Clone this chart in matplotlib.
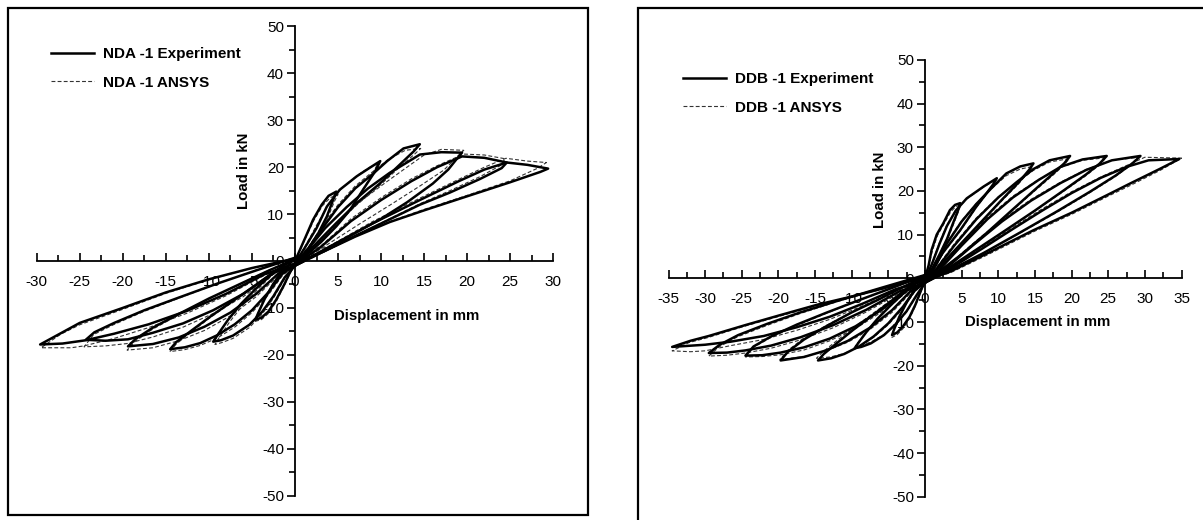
import matplotlib
matplotlib.use("Agg")
import matplotlib.pyplot as plt
from matplotlib.patches import Rectangle
from matplotlib.ticker import MultipleLocator, FuncFormatter

FAMILY = ['Liberation Sans', 'DejaVu Sans']
plt.rcParams['font.family'] = FAMILY

# ---------------- data: NDA-1 (left panel), each loop = (displacement mm, load kN) points ----------------
NDA_EXP_1 = [(0,0),(0.6,2.5),(1.2,5.0),(2.1,8.8),(3.1,12.0),(3.9,13.9),(4.8,14.8),(4.5,13.4),(3.7,9.5),(2.7,5.9),(1.6,2.8),(0.5,0.3),(0,-0.5),
             (-0.6,-2.5),(-1.3,-5.2),(-2.2,-8.3),(-3.1,-10.8),(-3.9,-12.1),(-4.6,-12.5),(-4.3,-11.2),(-3.5,-8),(-2.5,-4.8),(-1.4,-2),(-0.3,0),(0,0)]
NDA_EXP_2 = [(0,-0.5),(1.2,3),(2.5,7),(3.7,11.6),(5.2,15.2),(7.2,18.1),(8.7,19.9),(9.9,21.3),(9.3,19.1),(7.9,15.2),(6.4,10.9),(4.8,7.4),(3,4),(1.3,1.2),(0,-1),
             (-1.2,-3.5),(-2.5,-7.5),(-3.8,-10.8),(-5.3,-13.6),(-7.2,-15.9),(-8.6,-16.9),(-9.5,-17.2),(-9,-15.8),(-7.8,-12.6),(-6.3,-9.2),(-4.6,-6),(-2.8,-3),(-1,-0.5),(0,0.3)]
NDA_EXP_3 = [(0,-1),(1.5,2.5),(3,6.5),(5,11.5),(7,15.5),(9,18.5),(10.7,21.3),(12.6,24.0),(14.5,24.9),(13.8,23.4),(12.2,20.6),(9.9,16.6),(7.2,12.4),(4.8,8.1),(2.5,3.8),(0.5,0.2),(-0.5,-1.5),
             (-1.5,-2.8),(-3,-6.5),(-5,-10.5),(-7,-13.5),(-9,-15.8),(-11,-17.5),(-12.8,-18.4),(-14.5,-18.8),(-13.8,-17.3),(-12,-14.8),(-9.8,-11.8),(-7.2,-8.5),(-4.6,-5.2),(-2.2,-2),(0,0.6)]
NDA_EXP_4 = [(-0.5,-1.5),(1.5,2.5),(3.5,7),(6,11.5),(8.5,15.5),(11,18.8),(13,21),(14.5,22.7),(17,23.2),(19.4,23.1),(18.8,21.8),(17.8,19.5),(16,16.5),(13,12.5),(10,9),(6.5,5.5),(3,2),(0.5,-0.5),
             (-2,-2.8),(-4.5,-7),(-7.5,-11),(-10.5,-14),(-13.5,-16.3),(-16.5,-17.7),(-19.4,-18.2),(-18.5,-16.6),(-16.5,-14.2),(-13.5,-11.3),(-10,-8),(-6.5,-5),(-3,-2),(0.5,0.8)]
NDA_EXP_5 = [(-0.5,-1.5),(3,3),(6.5,8.5),(10,13),(13.5,17),(16.5,20),(19.4,22.3),(22,22),(24.6,21),(24,19.8),(21.5,17.5),(18,14.6),(14.5,12),(10,8),(6,4.5),(2,0.8),(0,-1),
             (-2.5,-2.5),(-6,-7),(-9.5,-10.5),(-13,-13.3),(-16.5,-15.3),(-19.4,-16.7),(-22,-17),(-24.3,-16.8),(-23.3,-15.2),(-21,-13.2),(-17.5,-10.5),(-13.5,-7.8),(-9,-4.8),(-4.5,-2),(0.5,1)]
NDA_EXP_6 = [(0,-1),(4,3),(9,8),(14.5,13),(19,17),(22,19.5),(24.6,21),(27,20.5),(29.4,19.7),(28.5,19),(25,16.8),(20,13.8),(15,10.8),(11,8.3),(7,5.2),(3.3,2),(0.5,-0.2),
             (-3.5,-2.8),(-8,-7),(-12.5,-10.6),(-17,-13.5),(-21,-15.5),(-24.3,-16.9),(-27,-17.6),(-29.6,-17.8),(-27,-15.2),(-25,-13.2),(-20,-10),(-15,-6.7),(-10,-3.9),(-5,-1.5),(0,0.5)]

NDA_ANS_1 = [(0,0),(0.6,2.3),(1.3,5.2),(2.2,8.7),(3.2,11.8),(4.1,13.5),(5.0,14.2),(4.6,12.8),(3.8,9.2),(2.8,5.7),(1.7,2.7),(0.5,0.2),(0,-0.6),
             (-0.6,-2.7),(-1.3,-5.5),(-2.2,-8.7),(-3.1,-11.2),(-3.9,-12.5),(-4.7,-12.9),(-4.4,-11.5),(-3.6,-8.3),(-2.6,-5),(-1.4,-2.1),(-0.3,0),(0,0)]
NDA_ANS_2 = [(0,-0.5),(1.2,3.2),(2.5,7.6),(3.8,11.8),(5.3,15.3),(7.2,18.2),(8.5,19.8),(9.6,20.8),(9.1,18.8),(7.8,15),(6.3,10.8),(4.7,7.3),(2.9,3.9),(1.2,1.1),(0,-1.1),
             (-1.2,-3.8),(-2.5,-7.9),(-3.8,-11.3),(-5.3,-14.2),(-7.2,-16.5),(-8.5,-17.4),(-9.3,-17.8),(-8.8,-16.3),(-7.6,-13),(-6.1,-9.5),(-4.4,-6.2),(-2.7,-3.1),(-1,-0.5),(0,0.3)]
NDA_ANS_3 = [(0,0.3),(1.5,2.8),(3,7),(5,12),(7,16),(9,19),(10.8,21.6),(12.8,23.6),(14.6,24.0),(13.9,22.8),(12.2,20.1),(9.9,16.2),(7.2,12),(4.8,7.8),(2.5,3.6),(0.5,0.1),(-0.5,-1.6),
             (-1.5,-3.2),(-3,-7),(-5,-11),(-7,-14.1),(-9,-16.4),(-11,-18),(-12.8,-18.9),(-14.5,-19.3),(-13.8,-17.7),(-12,-15.1),(-9.8,-12),(-7.2,-8.7),(-4.6,-5.3),(-2.2,-2),(0.5,0.6)]
NDA_ANS_4 = [(0.5,0.6),(2,2.4),(4.5,7.5),(7.5,12.6),(10.5,16.7),(13,20),(15,22.6),(17,23.8),(19.6,23.6),(18.8,22.2),(17.3,19.4),(14.6,16.1),(11.1,12),(7.5,7.9),(4,3.8),(1,0.2),(-0.5,-1.6),
             (-2,-3.2),(-4.5,-7.6),(-7.5,-11.7),(-10.5,-14.8),(-13.5,-17),(-16.5,-18.5),(-19.5,-19),(-18.6,-17.2),(-16.6,-14.6),(-13.6,-11.6),(-10.1,-8.2),(-6.6,-5.1),(-3.1,-2),(0.5,0.8)]
NDA_ANS_5 = [(0.5,0.8),(3,3.2),(6.5,9),(10,13.5),(13.5,17.5),(16.5,20.3),(19.6,22.8),(22,22.6),(24.4,21.8),(23.9,20.4),(21.5,18),(18,15),(14.5,12.2),(10,8.1),(6,4.5),(2,0.7),(0,-1.1),
             (-2.5,-2.8),(-6,-7.6),(-9.5,-11.2),(-13,-14.1),(-16.5,-16.2),(-19.5,-17.6),(-22,-18.1),(-24.5,-18.3),(-23.4,-15.7),(-21.1,-13.6),(-17.6,-10.8),(-13.6,-8),(-9.1,-4.9),(-4.6,-2),(0.5,1)]
NDA_ANS_6 = [(0.5,1),(4,3.2),(9,8.4),(14.5,13.4),(19,17.4),(22,20),(24.5,21.9),(27,21.3),(29.2,21.0),(28.2,19.8),(25,17.1),(20,14),(15,11),(11,8.4),(7,5.2),(3.3,1.9),(0.5,-0.3),
             (-3.5,-3),(-8,-7.4),(-12.5,-11.1),(-17,-14.2),(-21,-16.5),(-24.5,-18.1),(-26,-18.5),(-29.5,-18.5),(-27.2,-15.6),(-25,-13.6),(-20,-10.3),(-15,-6.9),(-10,-4),(-5,-1.5),(0,0.5)]

# ---------------- data: DDB-1 (right panel) ----------------
DDB_EXP_1 = [(0,0),(0.5,3),(0.9,6.5),(1.6,10),(2.5,12.6),(3.4,15.6),(4.1,16.8),(4.8,17.2),(4.5,15.5),(3.8,12.5),(3,9),(2,5.5),(1,2.3),(0,-0.5),
             (-0.6,-3),(-1.3,-6),(-2.1,-8.8),(-3,-11),(-3.8,-12.4),(-4.5,-13),(-4.2,-11.6),(-3.5,-8.8),(-2.5,-5.5),(-1.3,-2.3),(0,0)]
DDB_EXP_2 = [(0,-0.5),(1,3.5),(2,8),(3,12),(4.2,15.5),(5.7,18.3),(8,21),(9.8,22.9),(9.3,21.5),(8.2,19),(7,16.4),(4.8,11),(2.5,6),(1,2),(0,-1),
             (-1.2,-4),(-2.5,-7.5),(-4,-10.5),(-5.6,-13),(-7.4,-14.9),(-8.7,-15.7),(-9.6,-16),(-9.1,-14.8),(-8,-12.3),(-6.5,-9.3),(-4.7,-6.2),(-2.8,-3.2),(-1,-0.8),(0,0.2)]
DDB_EXP_3 = [(0,-1),(1.5,3),(3,8),(5,13),(7,17),(9,20.5),(11.1,24.0),(13,25.6),(14.8,26.3),(14.2,24.8),(12.8,22),(10.5,18),(8,13.5),(5.5,9),(3,4.5),(0.8,0.5),(-0.5,-1.5),
             (-1.5,-3),(-3,-6.5),(-5,-10.3),(-7,-13.3),(-9,-15.6),(-11,-17.3),(-12.8,-18.3),(-14.6,-18.8),(-13.8,-17.3),(-12,-14.8),(-9.8,-11.8),(-7.2,-8.5),(-4.6,-5.2),(-2.2,-2),(0.5,0.5)]
DDB_EXP_4 = [(-0.5,-1.5),(1.5,2),(4,7.5),(7,13.5),(10,18.5),(12.5,22),(14.8,25),(17,27),(19.8,28),(19,26.3),(17.5,24),(15,20.3),(12,15.8),(8.5,10.5),(5,5.5),(1.5,1),(-0.5,-1.5),
             (-2,-3),(-4.5,-7.3),(-7.5,-11.3),(-10.5,-14.3),(-13.5,-16.5),(-16.5,-18),(-19.7,-18.8),(-18.7,-16.8),(-16.5,-14),(-13.5,-11),(-10,-7.8),(-6.5,-5),(-3,-2),(0.5,0.8)]
DDB_EXP_5 = [(-0.5,-1.5),(2,2),(5,7.5),(8.5,13.5),(12,18.5),(15.5,22.5),(18.5,25.5),(21.5,27.2),(24.8,28),(23.8,26.2),(22,23.8),(19,20.2),(15,15.5),(11,11),(6.5,6),(2,1),(0,-1),
             (-2.5,-2.8),(-6,-7.3),(-9.5,-11),(-13,-13.8),(-16.5,-15.8),(-19.7,-17),(-22.2,-17.6),(-24.5,-17.7),(-23.4,-15.6),(-21,-13.3),(-17.5,-10.6),(-13.5,-7.9),(-9,-5),(-4.5,-2.2),(0.5,1)]
DDB_EXP_6 = [(0,-1),(3,2.5),(6.5,7.5),(10.5,13),(14.5,17.8),(18.5,21.8),(22,24.8),(25.5,27),(29.4,28),(28.3,26.3),(26,23.5),(22.5,19.8),(18,15.3),(13,10.5),(8,5.8),(3,1.5),(0,-1),
             (-3.5,-3),(-8,-7.2),(-12.5,-10.7),(-17,-13.5),(-21,-15.4),(-24.5,-16.5),(-27,-17),(-29.5,-17.1),(-28,-15.2),(-25.5,-13),(-21.5,-10.4),(-17,-7.8),(-12,-5.2),(-6,-2.2),(0.5,1)]
DDB_EXP_7 = [(0,-1),(4,2.8),(8,7),(12,11.3),(16,15.5),(20,19.5),(24,23),(27.5,25.5),(30.5,27),(34.7,27.3),(32,25),(28,21.7),(24.8,19),(20,15),(14.8,11),(8,5.3),(3.4,1.5),(0,-0.5),
             (-4,-2.5),(-8.5,-5.8),(-13,-8.8),(-17.5,-11.2),(-22,-13.2),(-26.5,-14.5),(-30,-15.2),(-34.5,-15.7),(-32,-14.3),(-29.5,-13.2),(-24.5,-10.7),(-19.7,-8.4),(-14.6,-6),(-9.8,-4.1),(-5,-2),(0,0.3)]

DDB_ANS_1 = [(0,0),(0.5,2.8),(1,6.3),(1.7,9.8),(2.6,12.5),(3.5,15.2),(4.2,16.4),(4.9,16.8),(4.5,15),(3.8,12),(3,8.6),(2,5.2),(1,2.1),(0,-0.6),
             (-0.6,-3.2),(-1.3,-6.3),(-2.1,-9.2),(-3,-11.5),(-3.8,-12.9),(-4.6,-13.6),(-4.3,-12),(-3.6,-9.2),(-2.6,-5.8),(-1.3,-2.4),(0,0)]
DDB_ANS_2 = [(0,-0.5),(1,3.7),(2,8.3),(3,12.2),(4.2,15.6),(5.8,18.3),(8,20.9),(9.7,22.6),(9.2,21),(8.1,18.6),(6.9,16),(4.8,10.8),(2.5,5.8),(1,1.9),(0,-1.1),
             (-1.2,-4.2),(-2.5,-7.7),(-4,-10.6),(-5.6,-12.9),(-7.4,-14.6),(-8.7,-15.3),(-9.5,-15.5),(-9,-14.4),(-7.9,-12),(-6.4,-9.2),(-4.6,-6.2),(-2.7,-3.2),(-1,-0.8),(0,0.2)]
DDB_ANS_3 = [(0,-1),(1.5,3.3),(3,8.3),(5,13.2),(7,17.1),(9,20.4),(11.1,23.5),(13,25),(14.7,25.6),(14.1,24.2),(12.7,21.5),(10.4,17.6),(7.9,13.2),(5.4,8.8),(2.9,4.3),(0.7,0.4),(-0.5,-1.6),
             (-1.5,-3.3),(-3,-6.9),(-5,-10.6),(-7,-13.5),(-9,-15.6),(-11,-17.2),(-12.9,-18),(-14.8,-18.3),(-14,-16.9),(-12.2,-14.5),(-10,-11.6),(-7.4,-8.4),(-4.8,-5.2),(-2.3,-2),(0.5,0.5)]
DDB_ANS_4 = [(-0.5,-1.6),(1.5,2.3),(4,7.9),(7,13.8),(10,18.6),(12.5,21.9),(14.8,24.7),(17,26.6),(19.7,27.4),(18.9,25.8),(17.4,23.5),(14.9,19.9),(11.9,15.5),(8.4,10.3),(4.9,5.4),(1.4,0.9),(-0.5,-1.6),
             (-2,-3.4),(-4.5,-7.8),(-7.5,-11.7),(-10.5,-14.6),(-13.5,-16.6),(-16.5,-17.9),(-19.8,-18.6),(-18.8,-16.6),(-16.6,-13.8),(-13.6,-10.9),(-10.1,-7.8),(-6.6,-5),(-3.1,-2),(0.5,0.8)]
DDB_ANS_5 = [(-0.5,-1.6),(2,2.4),(5,7.9),(8.5,13.9),(12,18.8),(15.5,22.6),(18.5,25.4),(21.5,27),(24.7,27.6),(23.7,25.8),(21.9,23.4),(18.9,19.9),(14.9,15.3),(10.9,10.9),(6.4,5.9),(1.9,0.9),(0,-1.1),
             (-2.5,-3.2),(-6,-7.8),(-9.5,-11.5),(-13,-14.3),(-16.5,-16.4),(-19.7,-17.5),(-22.2,-17.9),(-24.5,-18.0),(-23.5,-15.9),(-21.1,-13.6),(-17.6,-10.9),(-13.6,-8.1),(-9.1,-5.1),(-4.6,-2.3),(0.5,1)]
DDB_ANS_6 = [(0,-1.1),(3,2.8),(6.5,7.9),(10.5,13.4),(14.5,18.1),(18.5,22),(22,24.9),(25.5,27),(29.3,27.7),(28.2,26),(25.9,23.2),(22.4,19.5),(17.9,15),(12.9,10.3),(7.9,5.7),(2.9,1.4),(0,-1.1),
             (-3.5,-3.4),(-8,-7.7),(-12.5,-11.3),(-17,-14.1),(-21,-16),(-24.5,-17.1),(-27,-17.6),(-29.5,-17.8),(-28.1,-15.7),(-25.6,-13.4),(-21.6,-10.8),(-17.1,-8.1),(-12.1,-5.4),(-6.1,-2.3),(0.5,1)]
DDB_ANS_7 = [(0,-1.1),(4,3.1),(8,7.4),(12,11.7),(16,15.9),(20,19.8),(24,23.2),(27.5,25.8),(30,27.7),(32.5,27.6),(35,27.5),(32.2,24.8),(28.2,21.4),(25,18.8),(20.2,14.8),(15,10.8),(8.2,5.1),(3.5,1.3),(0,-0.6),
             (-4,-2.9),(-8.5,-6.3),(-13,-9.4),(-17.5,-11.9),(-22,-14),(-26.5,-15.4),(-30,-16.6),(-32,-16.8),(-34.5,-16.6),(-32.2,-14.7),(-29.7,-13.6),(-24.7,-11),(-19.9,-8.7),(-14.8,-6.3),(-10,-4.3),(-5,-2.1),(0,0.3)]

NDA_EXP = [NDA_EXP_1, NDA_EXP_2, NDA_EXP_3, NDA_EXP_4, NDA_EXP_5, NDA_EXP_6]
NDA_ANS = [NDA_ANS_1, NDA_ANS_2, NDA_ANS_3, NDA_ANS_4, NDA_ANS_5, NDA_ANS_6]
DDB_EXP = [DDB_EXP_1, DDB_EXP_2, DDB_EXP_3, DDB_EXP_4, DDB_EXP_5, DDB_EXP_6, DDB_EXP_7]
DDB_ANS = [DDB_ANS_1, DDB_ANS_2, DDB_ANS_3, DDB_ANS_4, DDB_ANS_5, DDB_ANS_6, DDB_ANS_7]

NDA_XLIM = (-30, 30)
DDB_XLIM = (-35, 35)
Y_LIM = (-50, 50)
X_LABEL = "Displacement in mm"
Y_LABEL = "Load in kN"

W, H = 1203, 520
fig = plt.figure(figsize=(W / 100, H / 100), dpi=100)


def fr(x0, y0, x1, y1):
    return [x0 / W, 1 - y1 / H, (x1 - x0) / W, (y1 - y0) / H]


# outer frames
fig.patches.append(Rectangle((8 / W, 1 - 515 / H), (588 - 8) / W, (515 - 8) / H,
                             transform=fig.transFigure, fill=False, lw=1.6, ec='black'))
fig.patches.append(Rectangle((638 / W, -0.1), 1.0, 1.1 - 8 / H,
                             transform=fig.transFigure, fill=False, lw=1.6, ec='black'))

TICK_SIZE = 11
LABEL_SIZE = 10.8
LEG_SIZE = 11


def make_panel(rect, xlim, exp_loops, ans_loops, name, xlab_pos, ylab_pos, leg_anchor):
    ax = fig.add_axes(rect)
    ax.set_xlim(*xlim)
    ax.set_ylim(*Y_LIM)
    ax.patch.set_alpha(0)
    for s in ('top', 'right'):
        ax.spines[s].set_visible(False)
    ax.spines['left'].set_position(('data', 0))
    ax.spines['bottom'].set_position(('data', 0))
    ax.spines['left'].set_linewidth(1.3)
    ax.spines['bottom'].set_linewidth(1.3)
    ax.xaxis.set_major_locator(MultipleLocator(5))
    ax.xaxis.set_minor_locator(MultipleLocator(2.5))
    ax.yaxis.set_major_locator(MultipleLocator(10))
    ax.yaxis.set_minor_locator(MultipleLocator(5))
    ax.tick_params(axis='x', which='major', direction='in', length=6, width=1.2, pad=10, labelsize=TICK_SIZE)
    ax.tick_params(axis='x', which='minor', direction='in', length=4, width=1.2)
    ax.tick_params(axis='y', which='major', direction='out', length=6, width=1.2, pad=2, labelsize=TICK_SIZE)
    ax.tick_params(axis='y', which='minor', direction='out', length=4, width=1.2)
    ax.xaxis.set_major_formatter(FuncFormatter(lambda v, p: f"{v:g}"))
    ax.yaxis.set_major_formatter(FuncFormatter(lambda v, p: f"{v:g}"))

    for i, loop in enumerate(ans_loops):
        xs = [p[0] for p in loop]
        ys = [p[1] for p in loop]
        ax.plot(xs, ys, color='#333333', lw=0.8, ls=(0, (3.5, 2)),
                label=f"{name} -1 ANSYS" if i == 0 else None, zorder=3)
    for i, loop in enumerate(exp_loops):
        xs = [p[0] for p in loop]
        ys = [p[1] for p in loop]
        ax.plot(xs, ys, color='black', lw=1.8, solid_joinstyle='round',
                label=f"{name} -1 Experiment" if i == 0 else None, zorder=4)

    ax.text(xlab_pos[0], xlab_pos[1], X_LABEL, ha='center', va='center',
            fontsize=LABEL_SIZE, fontweight='bold')
    ax.text(ylab_pos[0], ylab_pos[1], Y_LABEL, ha='center', va='center', rotation=90,
            fontsize=LABEL_SIZE, fontweight='bold')

    h, l = ax.get_legend_handles_labels()
    order = [1, 0]
    ax.legend([h[k] for k in order], [l[k] for k in order], loc='upper left',
              bbox_to_anchor=leg_anchor, bbox_transform=fig.transFigure,
              frameon=False, handlelength=2.8, handletextpad=0.6, labelspacing=0.95,
              prop=dict(size=LEG_SIZE, weight='bold'),
              borderaxespad=0, borderpad=0)
    return ax


ax1 = make_panel(fr(36.7, 26.5, 553.3, 495.5), NDA_XLIM, NDA_EXP, NDA_ANS, "NDA",
                 (13.0, -11.7), (-5.9, 19.3), (51 / W, 1 - 47 / H))
ax2 = make_panel(fr(668.5, 59.8, 1181.5, 496.8), DDB_XLIM, DDB_EXP, DDB_ANS, "DDB",
                 (15.3, -9.9), (-6.2, 20.2), (683 / W, 1 - 72 / H))

fig.savefig("out.png", dpi=100)
